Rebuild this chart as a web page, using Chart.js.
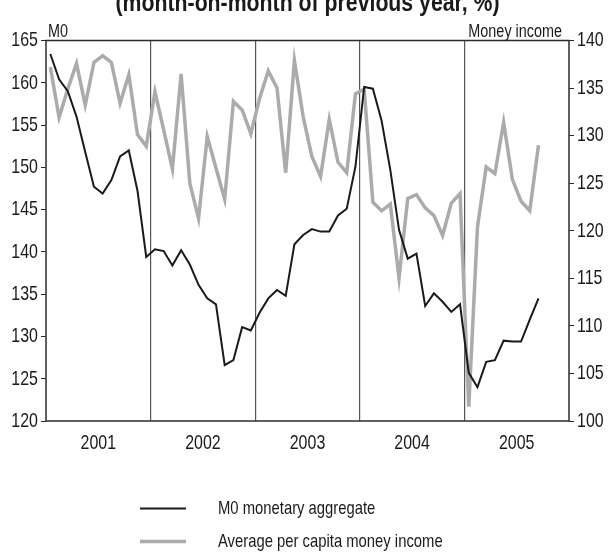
<!DOCTYPE html>
<html>
<head>
<meta charset="utf-8">
<script src="https://cdn.jsdelivr.net/npm/chart.js@4/dist/chart.umd.min.js"></script>
<style>
  html, body { margin: 0; padding: 0; background: #fff; }
  #wrap { width: 608px; height: 552px; }
</style>
</head>
<body>
<div id="wrap"><canvas id="chart" width="608" height="552"></canvas></div>
<script>
// 연도 (월별 데이터, 2001년 1월 ~ 2005년 9월)
const years = ['2001', '2002', '2003', '2004', '2005']

// M0 통화량 (왼쪽 축)
const m0 = [
  163.4, 160.4, 159.0, 156.0, 151.8, 147.7, 146.9, 148.5, 151.3, 152.0, 147.2, 139.4,
  140.3, 140.1, 138.4, 140.2, 138.5, 136.1, 134.5, 133.8, 126.6, 127.2, 131.1, 130.7,
  132.8, 134.5, 135.5, 134.8, 140.9, 142.0, 142.7, 142.4, 142.4, 144.3, 145.1, 150.1,
  159.5, 159.3, 155.5, 149.7, 142.6, 139.2, 139.8, 133.6, 135.1, 134.1, 132.9, 133.8,
  125.7, 124.0, 127.0, 127.2, 129.5, 129.4, 129.4, 132.0, 134.5,
]

// 1인당 평균 화폐소득 (오른쪽 축)
const income = [
  137.2, 131.9, 134.9, 137.6, 133.2, 137.7, 138.4, 137.7, 133.4, 136.4, 130.1, 128.9,
  134.6, 130.6, 126.5, 136.5, 125.0, 121.3, 129.9, 126.6, 123.3, 133.6, 132.7, 130.2,
  133.9, 136.8, 135.0, 126.1, 137.9, 132.0, 127.8, 125.7, 131.7, 127.2, 126.1, 134.4,
  134.9, 123.0, 122.1, 122.8, 115.0, 123.4, 123.8, 122.4, 121.6, 119.5, 122.9, 123.9,
  101.5, 120.4, 126.7, 126.0, 131.4, 125.4, 123.1, 122.1, 129.0,
]

// 축 눈금
const leftTicks = [120, 125, 130, 135, 140, 145, 150, 155, 160, 165]
const rightTicks = [100, 105, 110, 115, 120, 125, 130, 135, 140]

const FONT = '"Liberation Sans", Arial, sans-serif'
const TEXT = '#1a1a1a'

// 월 인덱스 중앙에 점 배치
const toPoints = arr => arr.map((v, i) => ({ x: i + 0.5, y: v }))

// 가로로 좁힌 글자 (원본의 condensed 글꼴 흉내)
function txt(ctx, s, x, y, opt) {
  const { align = 'left', base = 'alphabetic', size = 18, sx = 0.8, bold = false } = opt || {}
  ctx.save()
  ctx.font = (bold ? 'bold ' : '') + size + 'px ' + FONT
  ctx.textAlign = align
  ctx.textBaseline = base
  ctx.fillStyle = TEXT
  ctx.translate(x, y)
  ctx.scale(sx, 1)
  ctx.fillText(s, 0, 0)
  ctx.restore()
}

// 테두리, 눈금 글자, 제목, 축 제목, 범례를 그리는 플러그인
const decor = {
  id: 'decor',
  afterDatasetsDraw(chart) {
    const { ctx, chartArea: a, scales } = chart
    ctx.save()
    ctx.strokeStyle = '#2b2b2b'
    ctx.lineWidth = 1.5
    ctx.strokeRect(a.left, a.top, a.right - a.left, a.bottom - a.top)
    ctx.restore()

    // 눈금 글자
    const tk = { size: 21, sx: 0.76, base: 'middle' }
    scales.y.ticks.forEach(t => {
      txt(ctx, String(t.value), a.left - 8, scales.y.getPixelForValue(t.value), { ...tk, align: 'right' })
    })
    scales.y2.ticks.forEach(t => {
      txt(ctx, String(t.value), a.right + 8, scales.y2.getPixelForValue(t.value), { ...tk, align: 'left' })
    })
    years.forEach((yr, i) => {
      txt(ctx, yr, scales.x.getPixelForValue(i * 12 + 6), a.bottom + 12, { ...tk, align: 'center', base: 'top' })
    })

    // 제목 (위쪽이 잘려 있음)
    const title = '(month-on-month of previous year, %)'
    ctx.save()
    ctx.font = 'bold 25px ' + FONT
    const w = ctx.measureText(title).width
    ctx.restore()
    txt(ctx, title, (a.left + a.right) / 2, 11, { align: 'center', size: 25, sx: 384 / w, bold: true })

    // 축 제목
    txt(ctx, 'M0', a.left + 2, a.top - 4, { size: 18, sx: 0.8 })
    txt(ctx, 'Money income', a.right - 7, a.top - 4, { size: 18, sx: 0.8, align: 'right' })

    // 범례
    chart.data.datasets.forEach((ds, i) => {
      const y = 508.5 + i * 33
      ctx.save()
      ctx.strokeStyle = ds.borderColor
      ctx.lineWidth = ds.borderWidth
      ctx.beginPath()
      ctx.moveTo(140, y)
      ctx.lineTo(186, y)
      ctx.stroke()
      ctx.restore()
      txt(ctx, ds.label, 218, y, { size: 19, sx: 0.78, base: 'middle' })
    })
  },
}

new Chart(document.getElementById('chart'), {
  type: 'line',
  data: {
    datasets: [
      {
        label: 'M0 monetary aggregate',
        data: toPoints(m0),
        yAxisID: 'y',
        borderColor: '#1a1a1a',
        borderWidth: 2,
        pointRadius: 0,
        tension: 0,
      },
      {
        label: 'Average per capita money income',
        data: toPoints(income),
        yAxisID: 'y2',
        borderColor: '#ababab',
        borderWidth: 3.5,
        pointRadius: 0,
        tension: 0,
      },
    ],
  },
  options: {
    responsive: false,
    animation: false,
    layout: { padding: { top: 40.5, left: 0, right: 0, bottom: 0 } },
    plugins: {
      legend: { display: false },
      tooltip: { enabled: false },
    },
    scales: {
      x: {
        type: 'linear',
        min: 0,
        max: 60,
        afterBuildTicks: s => { s.ticks = [0, 12, 24, 36, 48, 60].map(v => ({ value: v })) },
        afterFit: s => { s.height = 131 },
        border: { display: false },
        grid: {
          drawTicks: false,
          color: c => (c.tick && c.tick.value > 0 && c.tick.value < 60) ? '#555' : 'transparent',
          lineWidth: 1.2,
        },
        ticks: { display: false },
      },
      y: {
        position: 'left',
        min: 120,
        max: 165,
        afterBuildTicks: s => { s.ticks = leftTicks.map(v => ({ value: v })) },
        afterFit: s => { s.width = 46 },
        border: { display: false },
        grid: { drawOnChartArea: false, tickLength: 5, color: '#2b2b2b' },
        ticks: { display: false },
      },
      y2: {
        position: 'right',
        min: 100,
        max: 140,
        afterBuildTicks: s => { s.ticks = rightTicks.map(v => ({ value: v })) },
        afterFit: s => { s.width = 39 },
        border: { display: false },
        grid: { drawOnChartArea: false, tickLength: 5, color: '#2b2b2b' },
        ticks: { display: false },
      },
    },
  },
  plugins: [decor],
})
</script>
</body>
</html>
